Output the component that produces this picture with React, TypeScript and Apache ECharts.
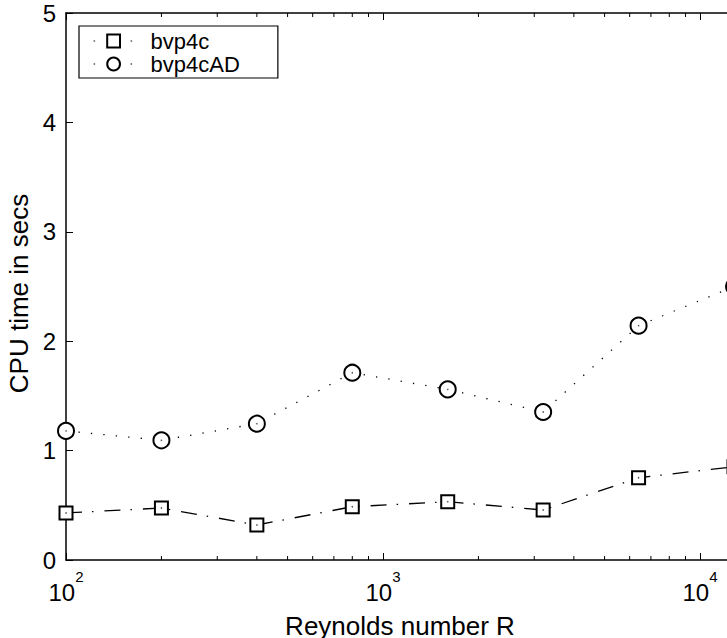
import React, { useEffect, useRef } from "react";
import * as echarts from "echarts";

const reynolds = [100, 200, 400, 800, 1600, 3200, 6400, 12800];
const bvp4cTimes = [0.43, 0.475, 0.32, 0.487, 0.533, 0.457, 0.752, 0.853];
const bvp4cADTimes = [1.18, 1.094, 1.246, 1.712, 1.56, 1.353, 2.142, 2.5];
const xMin = 100;
const xMax = 12800;
const yMin = 0;
const yMax = 5;
const yInterval = 1;
const minorTickValues = [200, 300, 400, 500, 600, 700, 800, 900, 2000, 3000, 4000, 5000, 6000, 7000, 8000, 9000];
const seriesNames = ["bvp4c", "bvp4cAD"];
const xTitle = "Reynolds number R";
const yTitle = "CPU time in secs";

const FONT = "'Liberation Sans', Arial, Helvetica, sans-serif";

export default function App() {
  const ref = useRef<HTMLDivElement>(null);
  useEffect(() => {
    if (!ref.current) return;
    const chart = echarts.init(ref.current, null, { renderer: "svg" });
    const pairs = (vals: number[]) => reynolds.map((x, i) => [x, vals[i]]);
    const powLabel = (v: number) => {
      const e = Math.round(Math.log10(v));
      if (Math.abs(Math.pow(10, e) - v) > 1e-6 * v) return "";
      return `{b|10}{s|${e}}`;
    };
    const axisLine = { show: true, onZero: false, lineStyle: { color: "#000", width: 1.5 } };
    const tick = { show: true, inside: true, length: 7, lineStyle: { color: "#000", width: 1 } };
    chart.setOption({
      animation: false,
      backgroundColor: "#fff",
      grid: { left: 66, top: 13, width: 668, height: 547, containLabel: false, outerBoundsMode: "none" },
      xAxis: [
        {
          type: "log",
          logBase: 10,
          min: xMin,
          max: xMax,
          position: "bottom",
          axisLine,
          axisTick: tick,
          splitLine: { show: false },
          axisLabel: {
            margin: 9,
            formatter: powLabel,
            rich: {
              b: { fontSize: 24, fontFamily: FONT, color: "#000", verticalAlign: "bottom" },
              s: { fontSize: 15, fontFamily: FONT, color: "#000", verticalAlign: "bottom", padding: [0, 0, 20, 0] },
            },
          },
          name: xTitle,
          nameLocation: "middle",
          nameGap: 53,
          nameTextStyle: { fontSize: 26, fontFamily: FONT, color: "#000" },
        },
        {
          type: "log",
          logBase: 10,
          min: xMin,
          max: xMax,
          position: "top",
          axisLine,
          axisTick: tick,
          splitLine: { show: false },
          axisLabel: { show: false },
        },
      ],
      yAxis: [
        {
          type: "value",
          min: yMin,
          max: yMax,
          interval: yInterval,
          position: "left",
          axisLine,
          axisTick: tick,
          splitLine: { show: false },
          axisLabel: { margin: 10, fontSize: 24, fontFamily: FONT, color: "#000" },
          name: yTitle,
          nameLocation: "middle",
          nameGap: 31,
          nameTextStyle: { fontSize: 26, fontFamily: FONT, color: "#000", padding: [0, 14, 0, 0] },
        },
        {
          type: "value",
          min: yMin,
          max: yMax,
          interval: yInterval,
          position: "right",
          axisLine,
          axisTick: tick,
          splitLine: { show: false },
          axisLabel: { show: false },
        },
      ],
      legend: {
        left: 79,
        top: 26,
        orient: "vertical",
        backgroundColor: "#fff",
        borderColor: "#000",
        borderWidth: 1.2,
        borderRadius: 0,
        padding: [4, 38, 3, 14],
        itemGap: 1,
        itemWidth: 40,
        itemHeight: 16,
        textStyle: { fontSize: 22, lineHeight: 20, fontFamily: FONT, color: "#000", padding: [0, 0, 0, 12] },
        data: seriesNames.map((n) => ({ name: n, lineStyle: { type: [1.5, 17], width: 1.2 } })),
      },
      series: [
        {
          name: seriesNames[0],
          type: "line",
          data: pairs(bvp4cTimes),
          symbol: "emptyRect",
          symbolSize: 13,
          showAllSymbol: true,
          itemStyle: { color: "#000", borderColor: "#000", borderWidth: 1.3 },
          lineStyle: { color: "#000", width: 1.3, type: [16, 10, 1.5, 11] },
          z: 3,
        },
        {
          name: seriesNames[1],
          type: "line",
          data: pairs(bvp4cADTimes),
          symbol: "emptyCircle",
          symbolSize: 16,
          showAllSymbol: true,
          itemStyle: { color: "#000", borderColor: "#000", borderWidth: 1.3 },
          lineStyle: { color: "#000", width: 1.3, type: [1.3, 11.2] },
          z: 3,
        },
        {
          name: "centers",
          type: "scatter",
          data: [...pairs(bvp4cTimes), ...pairs(bvp4cADTimes)],
          symbol: "circle",
          symbolSize: 1.6,
          itemStyle: { color: "#333" },
          silent: true,
          z: 4,
        },
        {
          name: "minorTicks",
          type: "custom",
          silent: true,
          clip: false,
          data: minorTickValues.map((v) => [v, yMin]),
          encode: { x: 0, y: 1 },
          renderItem: (_p: any, api: any) => {
            const v = api.value(0);
            const b = api.coord([v, yMin]);
            const t = api.coord([v, yMax]);
            return {
              type: "group",
              children: [
                { type: "line", shape: { x1: b[0], y1: b[1], x2: b[0], y2: b[1] - 4 }, style: { stroke: "#000", lineWidth: 1 } },
                { type: "line", shape: { x1: t[0], y1: t[1], x2: t[0], y2: t[1] + 4 }, style: { stroke: "#000", lineWidth: 1 } },
              ],
            };
          },
          z: 2,
        },
      ],
    });
    return () => chart.dispose();
  }, []);
  return (
    <div style={{ position: "fixed", left: 0, top: 0, width: 727, height: 638, overflow: "hidden", background: "#fff" }}>
      <div ref={ref} style={{ width: 760, height: 638 }} />
    </div>
  );
}
